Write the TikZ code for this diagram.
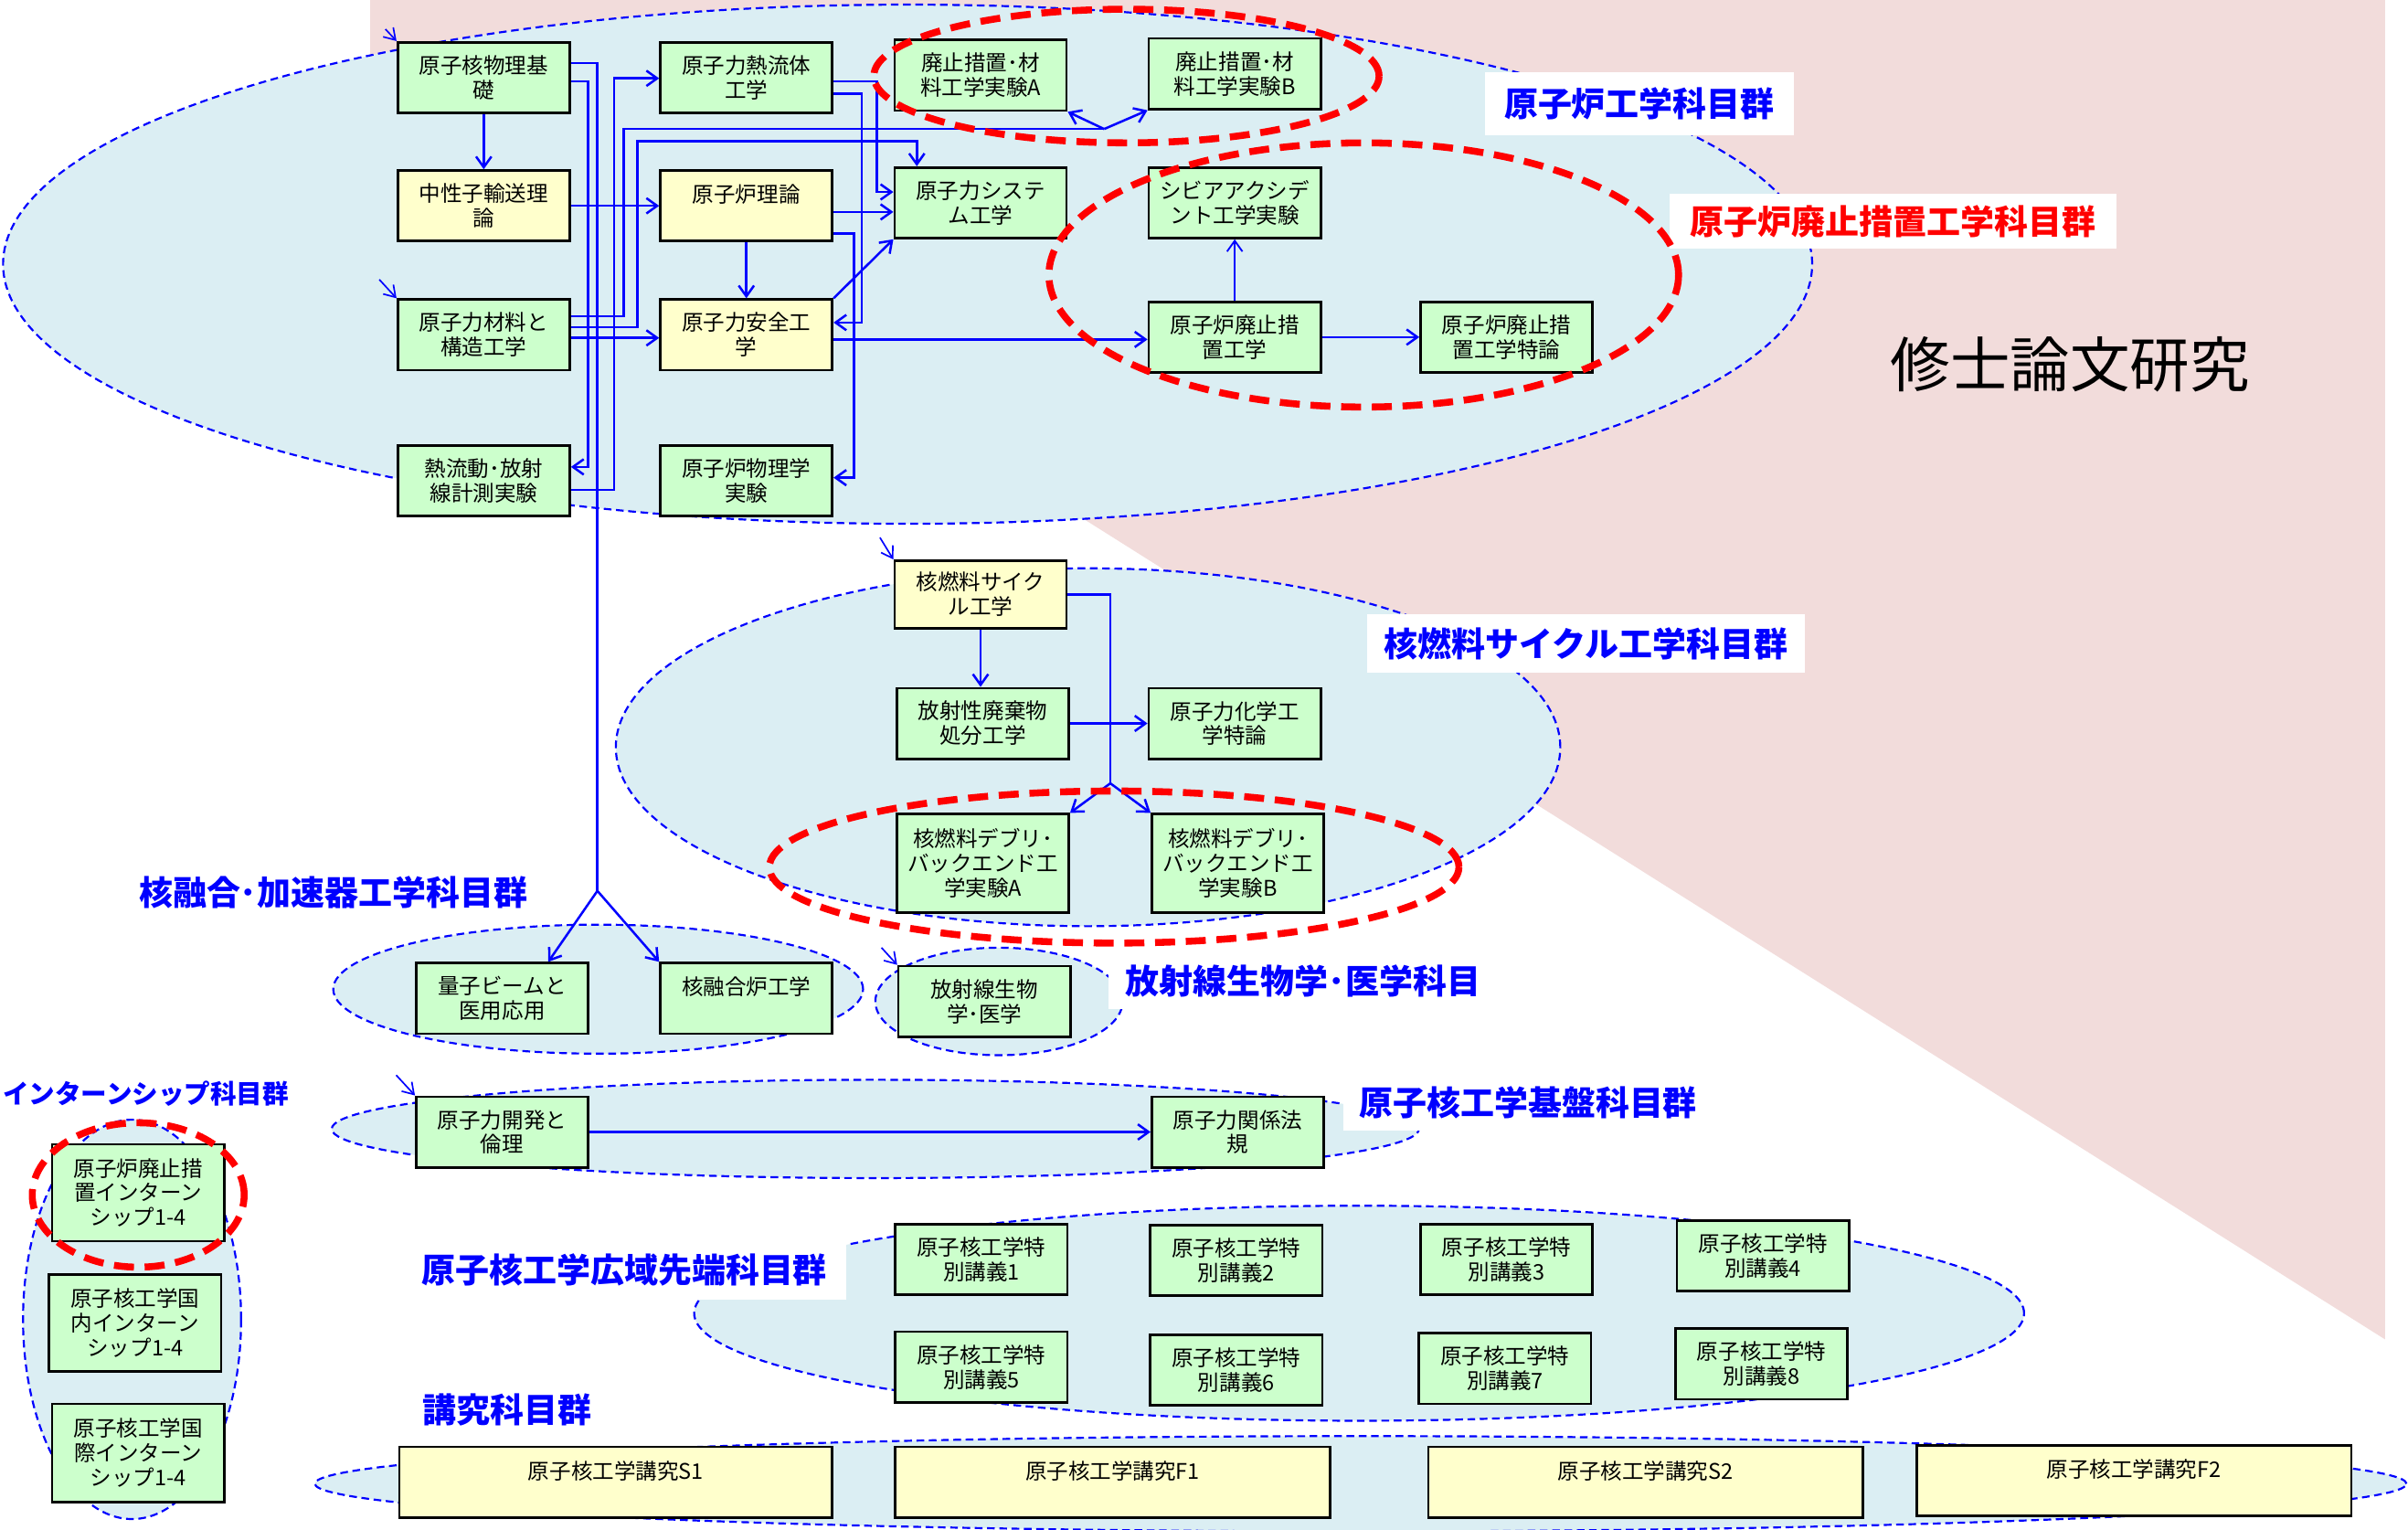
\documentclass[tikz,border=0pt]{standalone}
\usepackage{fontspec}
\setmainfont{Noto Sans CJK JP}
\usetikzlibrary{arrows.meta,calc}
\definecolor{pinkbg}{RGB}{242,220,219}
\definecolor{lblue}{RGB}{219,238,243}
\definecolor{gfill}{RGB}{204,255,204}
\definecolor{yfill}{RGB}{255,255,204}
\definecolor{bl}{RGB}{0,0,255}
\definecolor{rd}{RGB}{255,0,0}
\begin{document}
\begin{tikzpicture}[x=1pt,y=-1pt,
  grp/.style={fill=lblue, draw=bl, line width=1.3pt, dash pattern=on 5pt off 3pt},
  redring/.style={draw=rd, line width=4.5pt, dash pattern=on 13pt off 7pt},
  cbox/.style={draw=black, line width=1.6pt, minimum width=112pt, minimum height=46pt, inner sep=0pt, align=center, font=\fontsize{14}{16}\selectfont},
  gbox/.style={cbox, fill=gfill},
  ybox/.style={cbox, fill=yfill},
  conn/.style={draw=bl, line width=1.5pt},
  arr/.style={conn, -{Straight Barb[length=7pt,width=10pt]}},
  inarr/.style={draw=bl, line width=1pt, -{Straight Barb[length=7pt,width=9pt]}},
  lab/.style={font=\fontsize{22}{24}\selectfont\bfseries, text=bl, inner sep=0pt},
  labbg/.style={fill=white, draw=none, inner sep=0pt},
]
\useasboundingbox (0,0) rectangle (1568,996);
% background
\fill[pinkbg] (241,0) -- (1553,0) -- (1553,872) -- (241,45) -- cycle;
% group ellipses
\path[grp] (591,172) ellipse [x radius=589pt, y radius=169pt];
\path[grp] (708.5,486.5) ellipse [x radius=307.5pt, y radius=116.5pt];
\path[grp] (389.5,644) ellipse [x radius=172.5pt, y radius=42pt];
\path[grp] (650.5,652) ellipse [x radius=80.5pt, y radius=35pt];
\path[grp] (570,735) ellipse [x radius=354pt, y radius=32pt];
\path[grp] (86,859) ellipse [x radius=71pt, y radius=130pt];
\path[grp] (885,855) ellipse [x radius=433pt, y radius=70pt];
\path[grp] (886,966) ellipse [x radius=681pt, y radius=31pt];
% labels
\node[labbg, minimum width=201pt, minimum height=41pt] (L1) at (1067.5,67.5) {};
\node[lab] at (L1) {原子炉工学科目群};
\node[labbg, minimum width=291pt, minimum height=36pt] (L2) at (1232.5,144) {};
\node[lab, text=rd] at (L2) {原子炉廃止措置工学科目群};
\node[labbg, minimum width=285pt, minimum height=38pt] (L3) at (1032.5,419) {};
\node[lab] at (L3) {核燃料サイクル工学科目群};
\node[lab] (L4) at (217,581) {核融合･加速器工学科目群};
\node[labbg, minimum width=253pt, minimum height=37pt] (L5) at (848.5,638.5) {};
\node[lab] at (L5) {放射線生物学･医学科目};
\node[lab, font=\fontsize{17}{20}\selectfont\bfseries] (L6) at (95,712) {インターンシップ科目群};
\node[labbg, minimum width=240pt, minimum height=36pt] (L7) at (995,718) {};
\node[lab] at (L7) {原子核工学基盤科目群};
\node[labbg, minimum width=289pt, minimum height=38pt] (L8) at (406.5,827) {};
\node[lab] at (L8) {原子核工学広域先端科目群};
\node[lab] (L9) at (330,918) {講究科目群};
\node[font=\fontsize{39}{44}\selectfont, inner sep=0pt] (thesis) at (1348,237) {修士論文研究};
% boxes
\node[gbox] (kiso) at (315,50.5) {原子核物理基\\礎};
\node[ybox] (chusei) at (315,134) {中性子輸送理\\論};
\node[gbox] (zairyo) at (315,218) {原子力材料と\\構造工学};
\node[gbox] (netsu) at (315,313) {熱流動･放射\\線計測実験};
\node[gbox] (netsuryu) at (486,50.5) {原子力熱流体\\工学};
\node[ybox] (riron) at (486,134) {原子炉理論\\~};
\node[ybox] (anzen) at (486,218) {原子力安全工\\学};
\node[gbox] (butsuri) at (486,313) {原子炉物理学\\実験};
\node[gbox] (haiA) at (638.5,49) {廃止措置･材\\料工学実験A};
\node[gbox] (haiB) at (804,48) {廃止措置･材\\料工学実験B};
\node[gbox] (system) at (638.5,132) {原子力システ\\ム工学};
\node[gbox] (severe) at (804,132) {シビアアクシデ\\ント工学実験};
\node[gbox] (haishi) at (804,219.5) {原子炉廃止措\\置工学};
\node[gbox] (tokuron) at (981,219.5) {原子炉廃止措\\置工学特論};
\node[ybox, minimum height=44pt] (kcycle) at (638.5,387) {核燃料サイク\\ル工学};
\node[gbox] (haiki) at (640,471) {放射性廃棄物\\処分工学};
\node[gbox] (kagaku) at (804,471) {原子力化学工\\学特論};
\node[gbox, minimum height=64pt] (debriA) at (640,562) {核燃料デブリ･\\バックエンド工\\学実験A};
\node[gbox, minimum height=64pt] (debriB) at (806,562) {核燃料デブリ･\\バックエンド工\\学実験B};
\node[gbox] (ryoshi) at (327,650) {量子ビームと\\医用応用};
\node[gbox] (yugo) at (486,650) {核融合炉工学\\~};
\node[gbox] (seibutsu) at (641,652) {放射線生物\\学･医学};
\node[gbox] (rinri) at (327,737) {原子力開発と\\倫理};
\node[gbox] (houki) at (806,737) {原子力関係法\\規};
\node[gbox, minimum height=63pt] (int1) at (90,776.5) {原子炉廃止措\\置インターン\\シップ1-4};
\node[gbox, minimum height=63pt] (int2) at (88,861.5) {原子核工学国\\内インターン\\シップ1-4};
\node[gbox, minimum height=64pt] (int3) at (90,946) {原子核工学国\\際インターン\\シップ1-4};
\node[gbox] (sp1) at (639,820) {原子核工学特\\別講義1};
\node[gbox] (sp2) at (805,820.5) {原子核工学特\\別講義2};
\node[gbox] (sp3) at (981,820) {原子核工学特\\別講義3};
\node[gbox] (sp4) at (1148,817.5) {原子核工学特\\別講義4};
\node[gbox] (sp5) at (639,890) {原子核工学特\\別講義5};
\node[gbox] (sp6) at (805,892) {原子核工学特\\別講義6};
\node[gbox] (sp7) at (980,891) {原子核工学特\\別講義7};
\node[gbox] (sp8) at (1147,888) {原子核工学特\\別講義8};
\node[ybox, minimum width=282pt] (s1) at (401,965) {原子核工学講究S1\\~};
\node[ybox, minimum width=283pt] (f1) at (724.5,965) {原子核工学講究F1\\~};
\node[ybox, minimum width=283pt] (s2) at (1071.5,965) {原子核工学講究S2\\~};
\node[ybox, minimum width=283pt] (f2) at (1389.5,964) {原子核工学講究F2\\~};
% split points
\coordinate (spA) at (389,580);
\coordinate (spB) at (719,84);
\coordinate (spC) at (723,510);
% connectors
\draw[arr] (kiso) -- (chusei);
\draw[conn] (kiso.east |- 0,41) -- (389,41) -- (spA);
\draw[arr] (spA) -- (ryoshi.north -| 357,0);
\draw[arr] (spA) -- (yugo.north west);
\draw[arr] (kiso.east |- 0,53) -- (383,53) -- (383,304) -- (netsu.east |- 0,304);
\draw[conn] (zairyo.east |- 0,206) -- (406,206) -- (406,84) -- (spB);
\draw[arr] (spB) -- (haiA.south east);
\draw[arr] (spB) -- (haiB.south west);
\draw[arr] (zairyo.east |- 0,213) -- (415,213) -- (415,92) -- (597,92) -- (system.north -| 597,0);
\draw[arr] (zairyo.east |- 0,220) -- (anzen.west |- 0,220);
\draw[arr] (chusei) -- (riron);
\draw[arr] (netsuryu.east |- 0,53) -- (571,53) -- (571,125) -- (system.west |- 0,125);
\draw[arr] (netsuryu.east |- 0,61) -- (561,61) -- (561,210) -- (anzen.east |- 0,210);
\draw[arr] (riron.east |- 0,138) -- (system.west |- 0,138);
\draw[arr] (riron.east |- 0,152) -- (556,152) -- (556,311) -- (butsuri.east |- 0,311);
\draw[arr] (riron) -- (anzen);
\draw[arr] (anzen.north east) -- (system.south west);
\draw[arr] (anzen.east |- 0,221) -- (haishi.west |- 0,221);
\draw[conn, line width=1.1pt, -{Straight Barb[length=7pt,width=10pt]}] (haishi) -- (severe);
\draw[arr] (haishi) -- (tokuron);
\draw[arr] (netsu.east |- 0,319) -- (400,319) -- (400,51) -- (netsuryu.west |- 0,51);
\draw[arr] (kcycle.south) -- (kcycle.south |- haiki.north);
\draw[conn] (kcycle.east |- 0,387) -- (723,387) -- (spC);
\draw[arr] (spC) -- (debriA.north east);
\draw[arr] (spC) -- (debriB.north west);
\draw[arr] (haiki) -- (kagaku);
\draw[arr] (rinri) -- (houki);
% incoming arrows
\coordinate (inA) at (251,19);
\coordinate (inB) at (247,182);
\coordinate (inC) at (573,350);
\coordinate (inD) at (574,617);
\coordinate (inE) at (258,700);
\draw[inarr] (inA) -- (kiso.north west);
\draw[inarr] (inB) -- (zairyo.north west);
\draw[inarr] (inC) -- (kcycle.north west);
\draw[inarr] (inD) -- (seibutsu.north west);
\draw[inarr] (inE) -- (rinri.north west);
% red rings
\path[redring] (733.5,49.5) ellipse [x radius=164.5pt, y radius=43.5pt];
\path[redring] (888,179) ellipse [x radius=205pt, y radius=86pt];
\path[redring] (725.5,564.5) ellipse [x radius=224.5pt, y radius=49.5pt];
\path[redring] (90,778) ellipse [x radius=69pt, y radius=47pt];
\end{tikzpicture}
\end{document}
